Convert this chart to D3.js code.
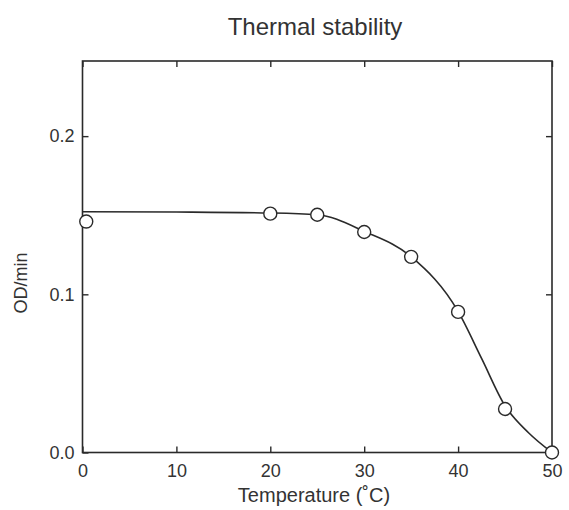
<!DOCTYPE html>
<html>
<head>
<meta charset="utf-8">
<script src="https://cdn.jsdelivr.net/npm/d3@7"></script>
<style>
	body{ margin:0; background:#fff; }
	text{ font-family:"Liberation Sans", Arial, sans-serif; fill:#333; }
</style>
</head>
<body>
<svg id="svg" width="569" height="510"></svg>
<script>
var temps = [0.4, 20, 25, 30, 35, 40, 45, 50];
var rates = [0.146, 0.151, 0.1503, 0.1394, 0.1237, 0.0889, 0.0275, 0];

// fitted curve
var curveTemps = [0, 10, 20, 25, 30, 35, 40, 42.5, 45, 47.5, 50];
var curveRates = [0.1522, 0.152, 0.1514, 0.1503, 0.1398, 0.1238, 0.0892, 0.0595, 0.0295, 0.0125, 0];

var xTicks = [0, 10, 20, 30, 40, 50];
var yTicks = [0, 0.1, 0.2];

var plotLeft = 82.5, plotRight = 552, plotTop = 61, plotBottom = 452.5;
var ink = "#2a2a2a";

var x = d3.scaleLinear().domain([0, 50]).range([plotLeft, plotRight]);
var y = d3.scaleLinear().domain([0, 0.2475]).range([plotBottom, plotTop]);

var svg = d3.select("#svg");

svg.append("text").attr("x", 315).attr("y", 35).attr("text-anchor","middle").style("font-size","24px").text("Thermal stability");

// bottom axis with labels, ticks pointing inward
var gx = svg.append("g").attr("transform","translate(0," + plotBottom + ")")
	.call(d3.axisBottom(x).tickValues(xTicks).tickFormat(d3.format("d")).tickSize(-6).tickPadding(12).tickSizeOuter(0));
gx.selectAll("text").style("font-size","18px").attr("fill", "#333");

var gxt = svg.append("g").attr("transform","translate(0," + plotTop + ")")
	.call(d3.axisTop(x).tickValues(xTicks).tickFormat("").tickSize(-6).tickSizeOuter(0));

var gy = svg.append("g").attr("transform","translate(" + plotLeft + ",0)")
	.call(d3.axisLeft(y).tickValues(yTicks).tickFormat(d3.format(".1f")).tickSize(-6).tickPadding(8).tickSizeOuter(0));
gy.selectAll("text").style("font-size","18px").attr("fill", "#333");

var gyr = svg.append("g").attr("transform","translate(" + plotRight + ",0)")
	.call(d3.axisRight(y).tickValues(yTicks).tickFormat("").tickSize(-6).tickSizeOuter(0));

svg.selectAll(".domain").remove();
svg.selectAll(".tick line").attr("stroke", ink).attr("stroke-width", 1.4);

// frame
svg.append("rect").attr("x", plotLeft).attr("y", plotTop).attr("width", plotRight - plotLeft).attr("height", plotBottom - plotTop)
	.attr("fill","none").attr("stroke", ink).attr("stroke-width", 1.6);

svg.append("text").attr("x", 314).attr("y", 502).attr("text-anchor","middle").style("font-size","20px").text("Temperature (\u02DAC)");
svg.append("text").attr("transform","translate(27,283) rotate(-90)").attr("text-anchor","middle").style("font-size","18px").text("OD/min");

var line = d3.line().x(function(d, i){ return x(curveTemps[i]); }).y(function(d){ return y(d); }).curve(d3.curveMonotoneX);
svg.append("path").datum(curveRates).attr("d", line).attr("fill","none").attr("stroke", ink).attr("stroke-width", 1.6);

svg.append("g").selectAll("circle").data(rates).enter().append("circle")
	.attr("cx", function(d, i){ return x(temps[i]); })
	.attr("cy", function(d){ return y(d); })
	.attr("r", 6.5)
	.attr("fill","#fff").attr("stroke", ink).attr("stroke-width", 1.4);
</script>
</body>
</html>
